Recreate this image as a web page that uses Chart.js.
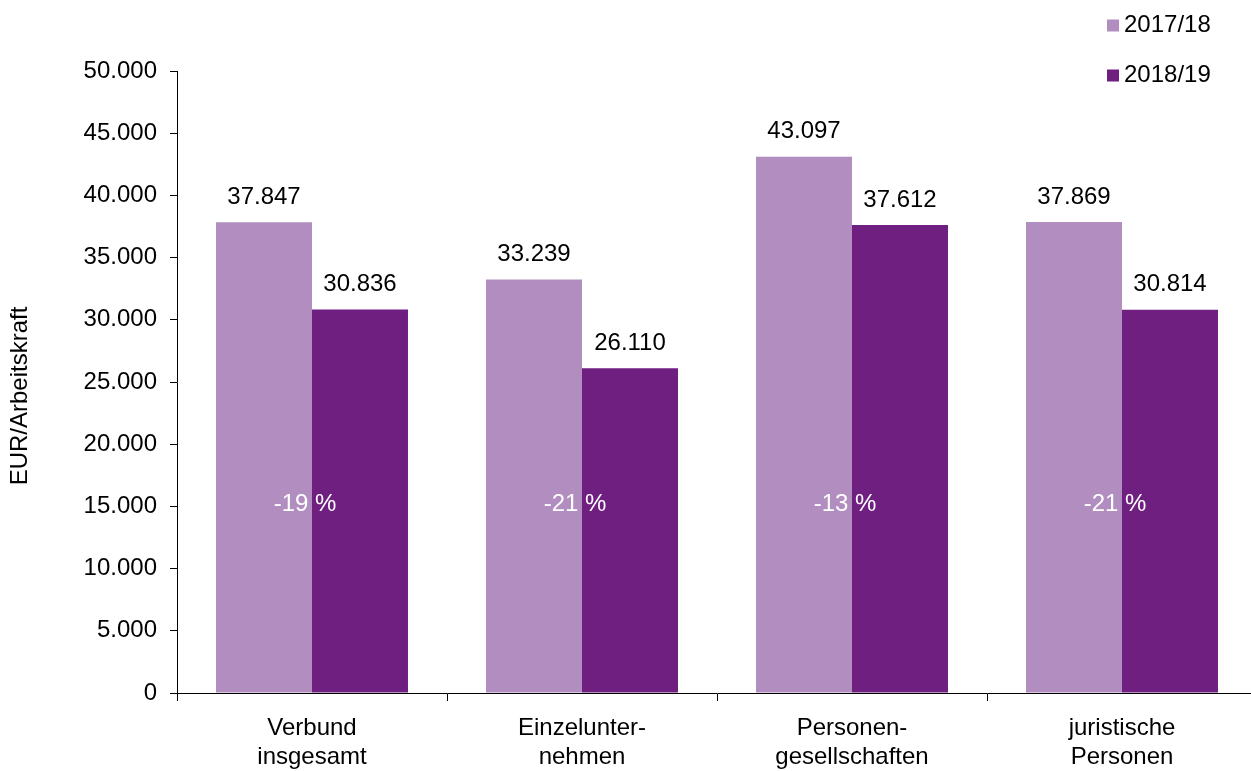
<!DOCTYPE html>
<html lang="de">
<head>
<meta charset="utf-8">
<title>EUR je Arbeitskraft</title>
<script src="https://cdn.jsdelivr.net/npm/chart.js@4.4.1/dist/chart.umd.min.js"></script>
<style>
  html, body { margin: 0; padding: 0; background: #ffffff; overflow: hidden; }
  #wrap { width: 1257px; height: 771px; }
</style>
</head>
<body>
<div id="wrap"><canvas id="chart" width="1257" height="771"></canvas></div>
<script>
// Kategorien (Rechtsformen) und Werte je Wirtschaftsjahr
const categories = [
  ['Verbund', 'insgesamt'],
  ['Einzelunter-', 'nehmen'],
  ['Personen-', 'gesellschaften'],
  ['juristische', 'Personen']
];
const seriesNames = ['2017/18', '2018/19'];
const values2017 = [37847, 33239, 43097, 37869];
const values2018 = [30836, 26110, 37612, 30814];
const changeLabels = ['-19 %', '-21 %', '-13 %', '-21 %'];
const yTicks = [0, 5000, 10000, 15000, 20000, 25000, 30000, 35000, 40000, 45000, 50000];

const FONT = '"Liberation Sans", Arial, Helvetica, sans-serif';
const COLORS = ['#B18DC0', '#6E1F80'];

function fmt(v) {
  return String(Math.round(v)).replace(/\B(?=(\d{3})+(?!\d))/g, '.');
}

// Werte über den Balken, Veränderung in Prozent, Legende und Achsentitel
const annotations = {
  id: 'annotations',
  afterDatasetsDraw(chart) {
    const ctx = chart.ctx;
    const xs = chart.scales.x;
    const ys = chart.scales.y;
    ctx.save();
    ctx.font = '24px ' + FONT;
    ctx.textAlign = 'center';
    ctx.textBaseline = 'middle';

    // Zahlen über den Balken
    ctx.fillStyle = '#000000';
    chart.data.datasets.forEach((ds, di) => {
      const meta = chart.getDatasetMeta(di);
      meta.data.forEach((bar, i) => {
        ctx.fillText(fmt(ds.data[i]), bar.x, bar.y - 25);
      });
    });

    // Veränderung zwischen den Jahren
    ctx.fillStyle = '#ffffff';
    const yLevel = ys.getPixelForValue(15200);
    changeLabels.forEach((txt, i) => {
      ctx.fillText(txt, xs.getPixelForValue(i) - 7, yLevel);
    });

    // Legende oben rechts, untereinander
    ctx.textAlign = 'left';
    chart.data.datasets.forEach((ds, di) => {
      const cy = 25.5 + di * 50;
      ctx.fillStyle = ds.backgroundColor;
      ctx.fillRect(1107, cy - 6, 12, 12);
      ctx.fillStyle = '#000000';
      ctx.fillText(ds.label, 1124, cy);
    });

    // Achsentitel
    ctx.translate(20, 396);
    ctx.rotate(-Math.PI / 2);
    ctx.textAlign = 'center';
    ctx.fillStyle = '#000000';
    ctx.fillText('EUR/Arbeitskraft', 0, 0);
    ctx.restore();
  }
};

new Chart(document.getElementById('chart'), {
  type: 'bar',
  data: {
    labels: categories,
    datasets: [
      { label: seriesNames[0], data: values2017, backgroundColor: COLORS[0] },
      { label: seriesNames[1], data: values2018, backgroundColor: COLORS[1] }
    ]
  },
  options: {
    responsive: false,
    animation: false,
    devicePixelRatio: 1,
    layout: { padding: { top: 71, right: 0, bottom: 0, left: 0 } },
    datasets: {
      bar: { categoryPercentage: 0.711, barPercentage: 1.0, borderWidth: 0 }
    },
    plugins: {
      legend: { display: false },
      tooltip: { enabled: false },
      title: { display: false }
    },
    scales: {
      x: {
        type: 'category',
        offset: true,
        grid: {
          display: true,
          offset: true,
          drawOnChartArea: false,
          drawTicks: true,
          tickLength: 8,
          color: '#000000',
          lineWidth: 1
        },
        border: { display: true, color: '#000000', width: 1 },
        ticks: {
          color: '#000000',
          font: { family: FONT, size: 24, lineHeight: '29px' },
          padding: 13,
          maxRotation: 0,
          autoSkip: false
        },
        afterFit(scale) { scale.height = 78; }
      },
      y: {
        min: 0,
        max: 50000,
        afterBuildTicks(scale) { scale.ticks = yTicks.map(v => ({ value: v })); },
        grid: {
          display: true,
          drawOnChartArea: false,
          drawTicks: true,
          tickLength: 7,
          color: '#000000',
          lineWidth: 1
        },
        border: { display: true, color: '#000000', width: 1 },
        ticks: {
          color: '#000000',
          font: { family: FONT, size: 24 },
          padding: 13,
          callback: v => fmt(v)
        },
        afterFit(scale) { scale.width = 177; }
      }
    }
  },
  plugins: [annotations]
});
</script>
</body>
</html>
